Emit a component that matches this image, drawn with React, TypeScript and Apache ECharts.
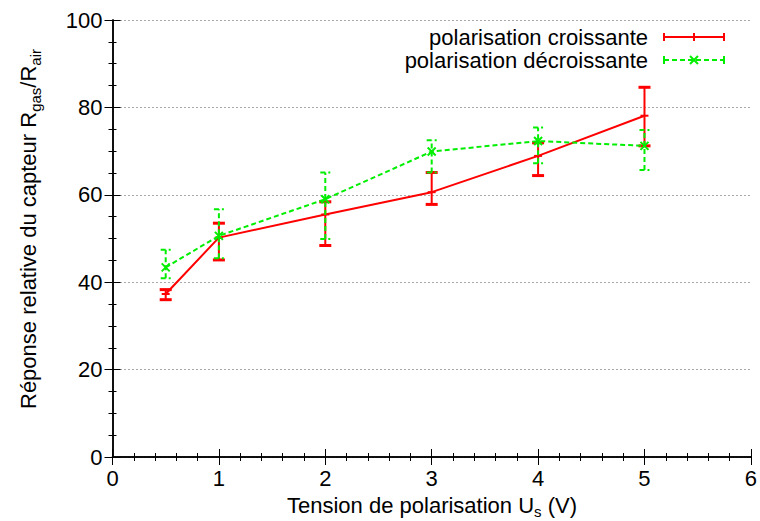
import React, { useEffect, useRef } from "react";
import * as echarts from "echarts";

// Data
const xValues = [0.5, 1, 2, 3, 4, 5];
const upY = [37.3, 50.2, 55.5, 60.6, 68.9, 78.1];
const upLow = [36.0, 45.1, 48.4, 57.8, 64.4, 71.2];
const upHigh = [38.3, 53.5, 58.4, 65.1, 71.9, 84.6];
const downY = [43.4, 50.6, 59.0, 69.9, 72.3, 71.2];
const downLow = [40.9, 45.5, 49.9, 65.1, 67.2, 65.7];
const downHigh = [47.4, 56.7, 65.1, 72.5, 75.4, 74.8];

const upName = "polarisation croissante";
const downName = "polarisation décroissante";

const FONT = "'Liberation Sans', Arial, Helvetica, sans-serif";
const RED = "#ff0000";
const GREEN = "#00ee00";

function makeRenderer(color: string, dashed: boolean, marker: "plus" | "cross", cap: number, capWidth: number) {
  return (params: any, api: any) => {
    const x = api.value(0);
    const lo = api.value(1);
    const hi = api.value(2);
    const y = api.value(3);
    const pLo = api.coord([x, lo]);
    const pHi = api.coord([x, hi]);
    const p = api.coord([x, y]);
    const style: any = { stroke: color, lineWidth: 2, fill: null };
    if (dashed) style.lineDash = [5, 3];
    const capStyle: any = { ...style, lineWidth: capWidth };
    const children: any[] = [
      { type: "line", shape: { x1: pLo[0], y1: pLo[1], x2: pHi[0], y2: pHi[1] }, style },
      { type: "line", shape: { x1: pLo[0] - cap, y1: pLo[1], x2: pLo[0] + cap, y2: pLo[1] }, style: capStyle },
      { type: "line", shape: { x1: pHi[0] - cap, y1: pHi[1], x2: pHi[0] + cap, y2: pHi[1] }, style: capStyle },
    ];
    const ms: any = { stroke: color, lineWidth: 2, fill: null };
    if (marker === "plus") {
      children.push({ type: "line", shape: { x1: p[0] - 4, y1: p[1], x2: p[0] + 4, y2: p[1] }, style: ms });
    } else {
      children.push({ type: "line", shape: { x1: p[0] - 4, y1: p[1] - 4, x2: p[0] + 4, y2: p[1] + 4 }, style: ms });
      children.push({ type: "line", shape: { x1: p[0] - 4, y1: p[1] + 4, x2: p[0] + 4, y2: p[1] - 4 }, style: ms });
    }
    return { type: "group", children };
  };
}

export default function App() {
  const ref = useRef<HTMLDivElement>(null);
  useEffect(() => {
    if (!ref.current) return;
    const chart = echarts.init(ref.current, undefined, { renderer: "svg" });

    const axisLine = { show: true, lineStyle: { color: "#000", width: 1.5 } };
    const axisTick = { show: true, inside: true, length: 8, lineStyle: { color: "#000", width: 1 } };
    const minorTick = { show: true, length: 4, lineStyle: { color: "#000", width: 1 } };
    const label = { fontSize: 22, color: "#000", fontFamily: FONT };

    const upLine = xValues.map((x, i) => [x, upY[i]]);
    const downLine = xValues.map((x, i) => [x, downY[i]]);
    const upErr = xValues.map((x, i) => [x, upLow[i], upHigh[i], upY[i]]);
    const downErr = xValues.map((x, i) => [x, downLow[i], downHigh[i], downY[i]]);

    // Legend (gnuplot style: text on the left, sample on the right)
    const legX1 = 664, legX2 = 724, legTextX = 648;
    const legRow1 = 37, legRow2 = 60;
    const legendGraphics: any[] = [
      { type: "text", x: legTextX, y: legRow1, style: { text: upName, font: `22px ${FONT}`, fill: "#000", align: "right", verticalAlign: "middle" } },
      { type: "text", x: legTextX, y: legRow2, style: { text: downName, font: `22px ${FONT}`, fill: "#000", align: "right", verticalAlign: "middle" } },
      { type: "line", shape: { x1: legX1, y1: legRow1, x2: legX2, y2: legRow1 }, style: { stroke: RED, lineWidth: 2 } },
      { type: "line", shape: { x1: legX1, y1: legRow1 - 4, x2: legX1, y2: legRow1 + 4 }, style: { stroke: RED, lineWidth: 2 } },
      { type: "line", shape: { x1: legX2, y1: legRow1 - 4, x2: legX2, y2: legRow1 + 4 }, style: { stroke: RED, lineWidth: 2 } },
      { type: "line", shape: { x1: (legX1 + legX2) / 2, y1: legRow1 - 4, x2: (legX1 + legX2) / 2, y2: legRow1 + 4 }, style: { stroke: RED, lineWidth: 2 } },
      { type: "line", shape: { x1: legX1, y1: legRow2, x2: legX2, y2: legRow2 }, style: { stroke: GREEN, lineWidth: 2, lineDash: [5, 3] } },
      { type: "line", shape: { x1: legX1, y1: legRow2 - 4, x2: legX1, y2: legRow2 + 4 }, style: { stroke: GREEN, lineWidth: 2 } },
      { type: "line", shape: { x1: legX2, y1: legRow2 - 4, x2: legX2, y2: legRow2 + 4 }, style: { stroke: GREEN, lineWidth: 2 } },
      { type: "line", shape: { x1: 690, y1: legRow2 - 4, x2: 698, y2: legRow2 + 4 }, style: { stroke: GREEN, lineWidth: 2 } },
      { type: "line", shape: { x1: 690, y1: legRow2 + 4, x2: 698, y2: legRow2 - 4 }, style: { stroke: GREEN, lineWidth: 2 } },
    ];

    chart.setOption({
      animation: false,
      backgroundColor: "#fff",
      grid: { left: 112.5, right: 9, top: 20, bottom: 64, containLabel: false },
      xAxis: [
        {
          type: "value", min: 0, max: 6, interval: 1, position: "bottom",
          axisLine, axisTick, minorTick: { ...minorTick, splitNumber: 5 },
          axisLabel: { ...label, margin: 10 },
          splitLine: { show: false },
        },
        {
          type: "value", min: 0, max: 6, interval: 1, position: "top",
          axisLine, axisTick, minorTick: { ...minorTick, splitNumber: 5 },
          axisLabel: { show: false }, splitLine: { show: false },
        },
      ],
      yAxis: [
        {
          type: "value", min: 0, max: 100, interval: 20, position: "left",
          axisLine, axisTick, minorTick: { ...minorTick, splitNumber: 4 },
          axisLabel: { ...label, margin: 10 },
          splitLine: { show: true, lineStyle: { color: "#555", width: 1, type: [1, 3] } },
        },
        {
          type: "value", min: 0, max: 100, interval: 20, position: "right",
          axisLine, axisTick, minorTick: { ...minorTick, splitNumber: 4 },
          axisLabel: { show: false }, splitLine: { show: false },
        },
      ],
      series: [
        {
          name: upName, type: "line", data: upLine, symbol: "none", z: 3,
          lineStyle: { color: RED, width: 2 },
        },
        {
          name: upName + " err", type: "custom", data: upErr, z: 4,
          encode: { x: 0, y: [1, 2, 3] },
          renderItem: makeRenderer(RED, false, "plus", 6, 3),
        },
        {
          name: downName, type: "line", data: downLine, symbol: "none", z: 5,
          lineStyle: { color: GREEN, width: 2, type: [5, 3] },
        },
        {
          name: downName + " err", type: "custom", data: downErr, z: 6,
          encode: { x: 0, y: [1, 2, 3] },
          renderItem: makeRenderer(GREEN, true, "cross", 5, 2),
        },
      ],
      graphic: [
        {
          type: "text", x: 28, y: 229, rotation: Math.PI / 2,
          style: {
            text: "{a|Réponse relative du capteur R}{s|gas}{a|/R}{s|air}",
            align: "center", verticalAlign: "middle",
            rich: {
              a: { fontSize: 22, fontFamily: FONT, fill: "#000", color: "#000" },
              s: { fontSize: 15, fontFamily: FONT, fill: "#000", color: "#000", padding: [15, 0, 0, 0] },
            },
          },
        },
        {
          type: "text", x: 432, y: 505,
          style: {
            text: "{a|Tension de polarisation U}{s|s}{a| (V)}",
            align: "center", verticalAlign: "middle",
            rich: {
              a: { fontSize: 22, fontFamily: FONT, fill: "#000", color: "#000" },
              s: { fontSize: 15, fontFamily: FONT, fill: "#000", color: "#000", padding: [13, 0, 0, 0] },
            },
          },
        },
        ...legendGraphics,
      ],
    });
    return () => chart.dispose();
  }, []);
  return <div ref={ref} style={{ position: "fixed", left: 0, top: 0, width: 760, height: 521 }} />;
}
